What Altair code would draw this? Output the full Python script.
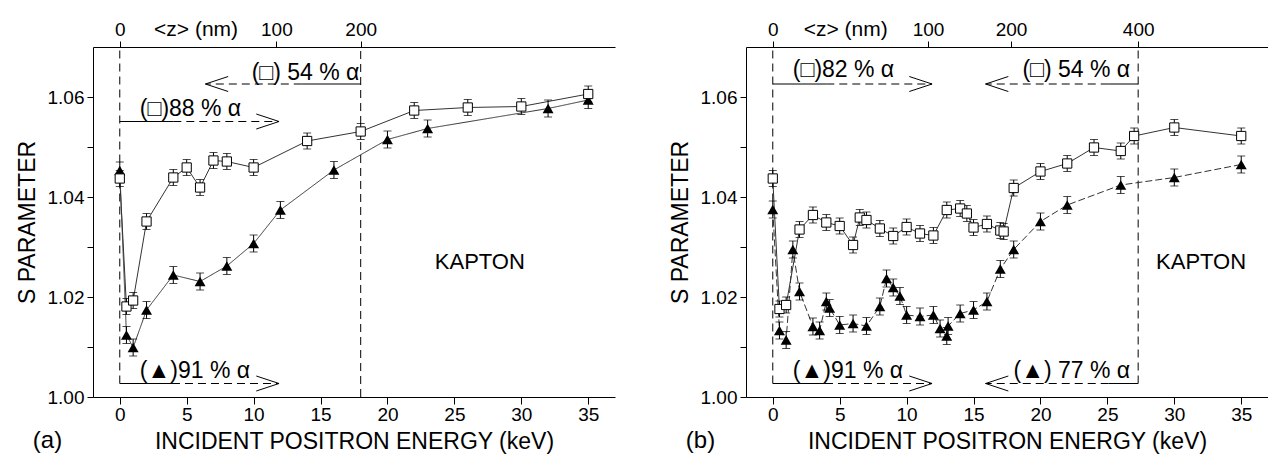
import altair as alt
import pandas as pd

# ---------------- data ----------------
# panel (a)
A_SQ_E = [0, 0.5, 1, 2, 4, 5, 6, 7, 8, 10, 14, 18, 22, 26, 30, 35]
A_SQ_S = [1.0437, 1.0181, 1.0193, 1.0351, 1.0439, 1.0459, 1.0419, 1.0473, 1.0471,
          1.0459, 1.0512, 1.0531, 1.0573, 1.0579, 1.0581, 1.0606]
A_TR_E = [0, 0.5, 1, 2, 4, 6, 8, 10, 12, 16, 20, 23, 32, 35]
A_TR_S = [1.0453, 1.0124, 1.0099, 1.0174, 1.0244, 1.0231, 1.0262, 1.0307, 1.0374,
          1.0454, 1.0515, 1.0537, 1.0577, 1.0594]

# panel (b)
B_SQ_E = [0, 0.5, 1, 2, 3, 4, 5, 6, 6.5, 7, 8, 9, 10, 11, 12, 13, 14, 14.5, 15, 16,
          17, 17.25, 18, 20, 22, 24, 26, 27, 30, 35]
B_SQ_S = [1.0437, 1.0176, 1.0184, 1.0335, 1.0364, 1.0349, 1.0342, 1.0304, 1.0359,
          1.0354, 1.0337, 1.0322, 1.0340, 1.0327, 1.0323, 1.0374, 1.0377, 1.0367,
          1.0339, 1.0346, 1.0333, 1.0331, 1.0418, 1.0451, 1.0467, 1.0499, 1.0492,
          1.0522, 1.0539, 1.0522]
B_TR_E = [0, 0.5, 1, 1.5, 2, 3, 3.5, 4, 4.25, 5, 6, 7, 8, 8.5, 9, 9.5, 10, 11, 12,
          12.5, 13, 13.1, 14, 15, 16, 17, 18, 20, 22, 26, 30, 35]
B_TR_S = [1.0375, 1.0133, 1.0114, 1.0295, 1.0211, 1.0141, 1.0133, 1.0191, 1.0178,
          1.0144, 1.0147, 1.0142, 1.0181, 1.0237, 1.0219, 1.0202, 1.0164, 1.0161,
          1.0164, 1.0137, 1.0122, 1.0142, 1.0167, 1.0174, 1.0191, 1.0256, 1.0295,
          1.0351, 1.0384, 1.0424, 1.0439, 1.0465]

SQ_ERR = 0.0016
TR_ERR = 0.0017

# top axis: mean implantation depth <z> (nm) at energy positions (keV)
A_Z_POS = [0, 11.7, 18]
A_Z_LAB = ["0", "100", "200"]
B_Z_POS = [0, 11.6, 17.8, 27.3]
B_Z_LAB = ["0", "100", "200", "400"]

# dashed vertical lines: energy, lower S, upper S
A_VLINES = [(0, 1.0027, 1.07), (18, 1.0, 1.07)]
B_VLINES = [(0, 1.0027, 1.07), (27.3, 1.0027, 1.07)]

# arrows: S level, base energy, solid->dashed switch energy, tip energy
A_ARROWS = [(1.0626, 18, 13.6, 6.4), (1.0551, 0, 4.0, 11.9), (1.0027, 0, 3.9, 11.9)]
B_ARROWS = [(1.0626, 0, 4.0, 11.9), (1.0626, 27.3, 25.1, 15.9),
            (1.0027, 0, 3.9, 11.9), (1.0027, 27.3, 25.1, 15.9)]

# arrow labels: text, energy, S, alignment
A_LABELS = [("(\u25a1) 54 % \u03b1", 17.9, 1.0648, "right"),
            ("(\u25a1)88 % \u03b1", 1.5, 1.0577, "left"),
            ("(\u25b2)91 % \u03b1", 1.5, 1.0053, "left")]
B_LABELS = [("(\u25a1)82 % \u03b1", 1.5, 1.0654, "left"),
            ("(\u25a1) 54 % \u03b1", 26.7, 1.0654, "right"),
            ("(\u25b2)91 % \u03b1", 1.5, 1.0053, "left"),
            ("(\u25b2) 77 % \u03b1", 26.7, 1.0053, "right")]

A_KAPTON = (26.9, 1.027)
B_KAPTON = (32.0, 1.027)
A_ZTITLE = (5.7, 1.0734)
B_ZTITLE = (5.45, 1.0734)
A_TAG = ("(a)", -5.4, 0.9912)
B_TAG = ("(b)", -5.4, 0.9912)

X_TICKS = [0, 5, 10, 15, 20, 25, 30, 35]
Y_TICKS = [1.00, 1.01, 1.02, 1.03, 1.04, 1.05, 1.06]
X_DOMAIN = [-2, 37]
Y_DOMAIN = [1.00, 1.07]

FONT = "Liberation Sans"
W, H = 522, 350


def label_expr(pos, lab):
    expr = "''"
    for p, l in reversed(list(zip(pos, lab))):
        expr = f"abs(datum.value - {p}) < 0.01 ? '{l}' : ({expr})"
    return expr


def panel(sqE, sqS, trE, trS, zpos, zlab, vlines, arrows, labels, kapton, ztitle, tag,
          tri_dash):
    xs = alt.Scale(domain=X_DOMAIN, nice=False)
    ys = alt.Scale(domain=Y_DOMAIN, nice=False, zero=False)
    yaxis = alt.Axis(values=Y_TICKS, format=".2f", orient="left",
                     labelExpr="round(datum.value*100) % 2 == 0 ? datum.label : ''",
                     title="S PARAMETER", tickSize=6, labelPadding=3, titlePadding=8)
    xaxis = alt.Axis(values=X_TICKS, title="INCIDENT POSITRON ENERGY (keV)",
                     orient="bottom", tickSize=7, labelPadding=1, titlePadding=6)
    topaxis = alt.Axis(orient="top", values=zpos, labelExpr=label_expr(zpos, zlab),
                       title="", tickSize=6, labelPadding=2)

    sq = pd.DataFrame({"E": sqE, "S": sqS})
    sq["i"] = range(len(sq))
    sq["lo"] = sq["S"] - SQ_ERR
    sq["hi"] = sq["S"] + SQ_ERR
    tr = pd.DataFrame({"E": trE, "S": trS})
    tr["i"] = range(len(tr))
    tr["lo"] = tr["S"] - TR_ERR
    tr["hi"] = tr["S"] + TR_ERR

    vl = pd.DataFrame(vlines, columns=["E", "y1", "y2"])

    solid, dashed, arms = [], [], []
    for (lvl, base, split, tip) in arrows:
        solid.append({"x1": base, "x2": split, "y": lvl})
        dashed.append({"x1": split, "x2": tip, "y": lvl})
        sgn = 1 if base > tip else -1
        for d in (1, -1):
            arms.append({"x1": tip, "x2": tip + sgn * 1.7, "y1": lvl,
                         "y2": lvl + d * 0.0015})
    solid = pd.DataFrame(solid)
    dashed = pd.DataFrame(dashed)
    arms = pd.DataFrame(arms)
    lab = pd.DataFrame(labels, columns=["t", "E", "S", "a"])

    X = lambda f, **k: alt.X(f, type="quantitative", scale=xs, **k)
    Y = lambda f, **k: alt.Y(f, type="quantitative", scale=ys, **k)

    layers = []
    # dashed verticals (carries the top <z> axis)
    layers.append(alt.Chart(vl).mark_rule(color="black", strokeWidth=1,
                                          strokeDash=[8, 5]).encode(
        x=X("E", axis=topaxis), y=Y("y1", axis=None), y2="y2"))
    layers.append(alt.Chart(solid).mark_rule(color="black", strokeWidth=1).encode(
        x=X("x1", axis=None), x2="x2", y=Y("y", axis=None)))
    layers.append(alt.Chart(dashed).mark_rule(color="black", strokeWidth=1,
                                              strokeDash=[8, 5]).encode(
        x=X("x1", axis=None), x2="x2", y=Y("y", axis=None)))
    layers.append(alt.Chart(arms).mark_rule(color="black", strokeWidth=1).encode(
        x=X("x1", axis=None), x2="x2", y=Y("y1", axis=None), y2="y2"))
    # connecting lines
    layers.append(alt.Chart(tr).mark_line(color="#333", strokeWidth=1,
                                          strokeDash=tri_dash).encode(
        x=X("E", axis=None), y=Y("S", axis=None), order="i:Q"))
    layers.append(alt.Chart(sq).mark_line(color="#333", strokeWidth=1).encode(
        x=X("E", axis=xaxis), y=Y("S", axis=yaxis), order="i:Q"))
    # error bars
    for d in (tr, sq):
        layers.append(alt.Chart(d).mark_rule(color="black", strokeWidth=1).encode(
            x=X("E", axis=None), y=Y("lo", axis=None), y2="hi"))
        layers.append(alt.Chart(d).mark_tick(color="black", orient="horizontal",
                                             size=8, thickness=1).encode(
            x=X("E", axis=None), y=Y("lo", axis=None)))
        layers.append(alt.Chart(d).mark_tick(color="black", orient="horizontal",
                                             size=8, thickness=1).encode(
            x=X("E", axis=None), y=Y("hi", axis=None)))
    # markers
    layers.append(alt.Chart(tr).mark_point(shape="triangle-up", filled=True,
                                           color="black", size=120, opacity=1).encode(
        x=X("E", axis=None), y=Y("S", axis=None)))
    layers.append(alt.Chart(sq).mark_point(shape="square", filled=True, fill="white",
                                           stroke="black", strokeWidth=1, size=85,
                                           opacity=1).encode(
        x=X("E", axis=None), y=Y("S", axis=None)))
    # texts
    for al in ("left", "right"):
        sub = lab[lab["a"] == al]
        if len(sub):
            layers.append(alt.Chart(sub).mark_text(font=FONT, fontSize=23, align=al,
                                                   baseline="middle",
                                                   color="black").encode(
                x=X("E", axis=None), y=Y("S", axis=None), text="t:N"))
    misc = pd.DataFrame([
        {"t": "KAPTON", "E": kapton[0], "S": kapton[1], "fs": 22},
        {"t": "<z> (nm)", "E": ztitle[0], "S": ztitle[1], "fs": 21},
        {"t": tag[0], "E": tag[1], "S": tag[2], "fs": 24},
    ])
    for _, r in misc.iterrows():
        layers.append(alt.Chart(misc[misc["t"] == r["t"]]).mark_text(
            font=FONT, fontSize=int(r["fs"]), align="center", baseline="middle",
            color="black").encode(x=X("E", axis=None), y=Y("S", axis=None), text="t:N"))

    return alt.layer(*layers).resolve_axis(x="independent", y="independent").properties(
        width=W, height=H)


pa = panel(A_SQ_E, A_SQ_S, A_TR_E, A_TR_S, A_Z_POS, A_Z_LAB, A_VLINES, A_ARROWS,
           A_LABELS, A_KAPTON, A_ZTITLE, A_TAG, [1, 0])
pb = panel(B_SQ_E, B_SQ_S, B_TR_E, B_TR_S, B_Z_POS, B_Z_LAB, B_VLINES, B_ARROWS,
           B_LABELS, B_KAPTON, B_ZTITLE, B_TAG, [7, 3])

chart = alt.hconcat(pa, pb, spacing=54).properties(
    padding={"left": 16, "top": 19, "right": 0, "bottom": 0},
    background="white",
).configure_view(strokeWidth=0).configure_axis(
    labelFont=FONT, titleFont=FONT, labelFontSize=19, titleFontSize=23,
    labelColor="black", titleColor="black", domainColor="black", tickColor="black",
    titleFontWeight="normal", grid=False, domainWidth=1, tickWidth=1,
)

chart.save("out.html", embed_options={"renderer": "svg", "actions": False})
